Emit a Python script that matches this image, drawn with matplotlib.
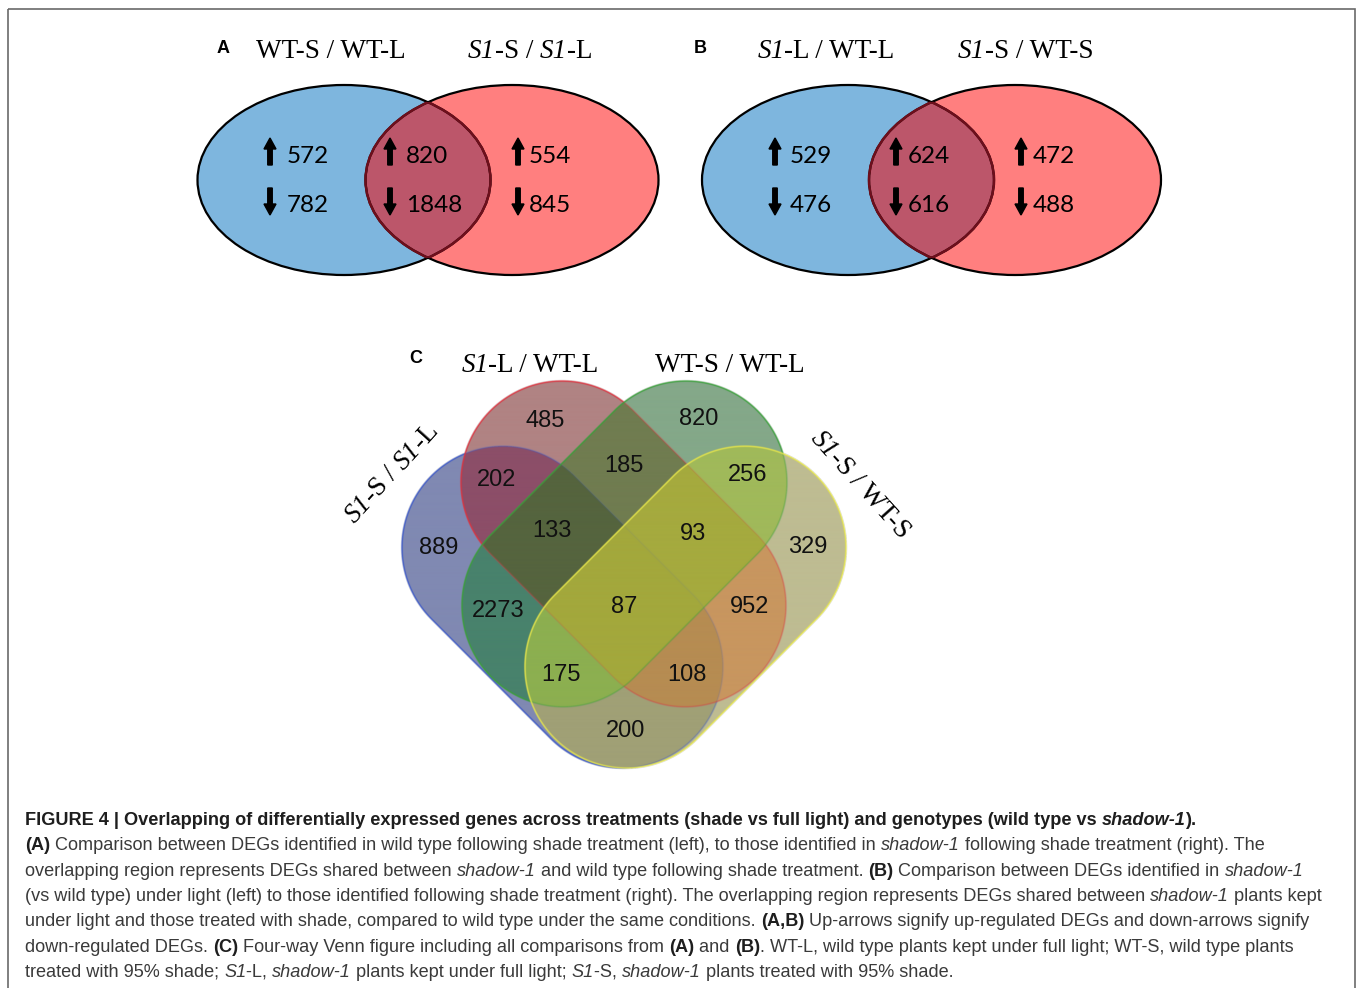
import numpy as np
import matplotlib
matplotlib.use('Agg')
import matplotlib.pyplot as plt
from matplotlib.patches import Ellipse, FancyArrow, Rectangle
from matplotlib import font_manager

# panel A: WT-S/WT-L vs S1-S/S1-L  (left only, shared, right only)
a_titles = ['WT-S / WT-L', 'S1-S / S1-L']
a_up = [572, 820, 554]
a_down = [782, 1848, 845]
# panel B: S1-L/WT-L vs S1-S/WT-S
b_titles = ['S1-L / WT-L', 'S1-S / WT-S']
b_up = [529, 624, 472]
b_down = [476, 616, 488]

# panel C: four-way venn
c_sets = ['S1-S / S1-L', 'S1-L / WT-L', 'WT-S / WT-L', 'S1-S / WT-S']
c_regions = [(0,), (1,), (2,), (3,), (0, 1), (0, 2), (0, 3), (1, 2), (1, 3), (2, 3),
             (0, 1, 2), (0, 1, 3), (0, 2, 3), (1, 2, 3), (0, 1, 2, 3)]
c_counts = [889, 485, 820, 329, 202, 2273, 200, 185, 952, 256, 133, 108, 175, 93, 87]

# layout / style
W, H = 1357, 988
c_colors = ['#8089b2', '#b08383', '#84a889', '#bebc92', '#8c4e68', '#48826c', '#a0a076',
            '#707c50', '#c8965f', '#a0b95a', '#55643e', '#b68c52', '#8caf50', '#a5aa3e', '#a3a83c']
c_label_xy = [(439, 548), (545, 421), (699, 419), (808, 547), (497, 480), (498, 611), (626, 731),
              (624, 466), (750, 607), (748, 475), (552, 531), (687, 675), (561, 675), (693, 534), (624, 607)]
cap_ends = [((503, 548), (622, 667)), ((562, 483), (685, 606)),
            ((686, 483), (563, 606)), ((745, 548), (626, 667))]
cap_r = 101
cap_edges = ['#3b57c4', '#d9333f', '#3a9e3a', '#e4e44c']

fig = plt.figure(figsize=(W / 100, H / 100), dpi=100)
ax = fig.add_axes([0, 0, 1, 1])
ax.set_xlim(0, W)
ax.set_ylim(H, 0)
ax.axis('off')
rend = fig.canvas.get_renderer()

serif = 'Liberation Serif'
sans = 'Liberation Sans'


def run_width(s, **kw):
    t1 = ax.text(0, 0, s + '|', **kw)
    t2 = ax.text(0, 0, '|', **kw)
    w = t1.get_window_extent(rend).width - t2.get_window_extent(rend).width
    t1.remove()
    t2.remove()
    return w


STY = {'r': ('normal', 'normal'), 'b': ('bold', 'normal'),
       'i': ('normal', 'italic'), 'bi': ('bold', 'italic')}


def draw_runs(x, y, runs, size, family, ha='left', rot=0, color='k', colors=None):
    th = np.deg2rad(rot)
    d = np.array([np.cos(th), -np.sin(th)])
    ws = []
    for txt, st in runs:
        wt, sl = STY[st]
        ws.append(run_width(txt, fontsize=size, family=family, weight=wt, style=sl))
    pos = np.array([x, y], float)
    if ha == 'center':
        pos = pos - sum(ws) / 2 * d
    for (txt, st), w in zip(runs, ws):
        wt, sl = STY[st]
        c = colors[st] if colors else color
        ax.text(pos[0], pos[1], txt, fontsize=size, family=family, weight=wt, style=sl,
                rotation=rot, rotation_mode='anchor', ha='left', va='baseline', color=c)
        pos = pos + w * d
    return sum(ws)


def s1_runs(label):
    parts = label.split('S1')
    runs = []
    for i, p in enumerate(parts):
        if i > 0:
            runs.append(('S1', 'i'))
        if p:
            runs.append((p, 'r'))
    return runs


# frame
ax.add_patch(Rectangle((8, 9), 1347, 1000, fill=False, ec='#6a6a6a', lw=1.2))


# ---- panels A and B: two-ellipse venns with up/down counts
def two_venn(cx_left, cx_right, cy, w, h, up, down, arrow_x, text_x, titles, title_x, letter, letter_x):
    blue = Ellipse((cx_left, cy), w, h, fc='#7eb6de', ec='none', zorder=1)
    red = Ellipse((cx_right, cy), w, h, fc='#ff7f7f', ec='none', zorder=1)
    ax.add_patch(blue)
    ax.add_patch(red)
    ov = Ellipse((cx_left, cy), w, h, fc='#bc566a', ec='none', zorder=2)
    ax.add_patch(ov)
    ov.set_clip_path(red)
    ax.add_patch(Ellipse((cx_left, cy), w, h, fill=False, ec='k', lw=1.6, zorder=3))
    ax.add_patch(Ellipse((cx_right, cy), w, h, fill=False, ec='k', lw=1.6, zorder=3))
    e1 = Ellipse((cx_left, cy), w, h, fill=False, ec='#6e0f1c', lw=1.8, zorder=4)
    e2 = Ellipse((cx_right, cy), w, h, fill=False, ec='#6e0f1c', lw=1.8, zorder=4)
    ax.add_patch(e1)
    ax.add_patch(e2)
    e1.set_clip_path(red)
    e2.set_clip_path(blue)
    for u, dn, ax_x, tx in zip(up, down, arrow_x, text_x):
        ax.add_patch(FancyArrow(ax_x, 165, 0, -27, width=4.5, head_width=12, head_length=11,
                                length_includes_head=True, color='k', zorder=5))
        ax.add_patch(FancyArrow(ax_x, 188, 0, 27, width=4.5, head_width=12, head_length=11,
                                length_includes_head=True, color='k', zorder=5))
        ax.text(tx, 163, str(u), fontsize=17.5, family='Lato', ha='left', va='baseline', zorder=5)
        ax.text(tx, 212, str(dn), fontsize=17.5, family='Lato', ha='left', va='baseline', zorder=5)
    for t, tx in zip(titles, title_x):
        draw_runs(tx, 58, s1_runs(t), 19.5, serif, ha='center')
    ax.text(letter_x, 53, letter, fontsize=13, family=sans, weight='bold', ha='left', va='baseline')


two_venn(344, 512, 180, 293, 190, a_up, a_down, [270, 390, 518], [287, 406, 529],
         a_titles, [331, 530], 'A', 217)
two_venn(848, 1015, 180, 292, 190, b_up, b_down, [775, 896, 1021], [790, 908, 1033],
         b_titles, [826, 1026], 'B', 694)


# ---- panel C: four capsules, rendered as a supersampled raster
def seg_dist(X, Y, p1, p2):
    p1 = np.array(p1, float)
    p2 = np.array(p2, float)
    d = p2 - p1
    t = np.clip(((X - p1[0]) * d[0] + (Y - p1[1]) * d[1]) / (d @ d), 0, 1)
    return np.hypot(X - p1[0] - t * d[0], Y - p1[1] - t * d[1])


x0, x1, y0, y1 = 385, 865, 365, 785
ss = 4
xs = np.arange(x0, x1, 1 / ss) + 0.5 / ss
ys = np.arange(y0, y1, 1 / ss) + 0.5 / ss
X, Y = np.meshgrid(xs, ys)
dists = [seg_dist(X, Y, p1, p2) for p1, p2 in cap_ends]
inside = [dd <= cap_r for dd in dists]
code = np.zeros(X.shape, int)
for i, m in enumerate(inside):
    code |= m.astype(int) << i
rgb = np.zeros(X.shape + (3,))
alpha = np.zeros(X.shape)
for reg, col in zip(c_regions, c_colors):
    key = sum(1 << k for k in reg)
    sel = code == key
    rgb[sel] = matplotlib.colors.to_rgb(col)
    alpha[sel] = 1.0

# outlines: faded where later (upper) shapes cover them
for i, (dd, ec) in enumerate(zip(dists, cap_edges)):
    n_later = sum(inside[j].astype(float) for j in range(i + 1, 4)) if i < 3 else 0
    a = np.clip(1.25 - np.abs(dd - cap_r), 0, 1) * 0.9 * 0.45 ** n_later
    out_a = a + alpha * (1 - a)
    ecol = np.array(matplotlib.colors.to_rgb(ec))
    num = ecol * a[..., None] + rgb * (alpha * (1 - a))[..., None]
    rgb = np.where(out_a[..., None] > 0, num / np.maximum(out_a, 1e-9)[..., None], rgb)
    alpha = out_a

img = np.dstack([rgb, alpha])
ax.imshow(img, extent=(x0, x1, y1, y0), origin='upper', interpolation='antialiased', zorder=1)

for n, (lx, ly) in zip(c_counts, c_label_xy):
    ax.text(lx, ly, str(n), fontsize=17, family=sans, ha='center', va='center',
            color='#111111', zorder=3)

draw_runs(530, 372, s1_runs(c_sets[1]), 19.5, serif, ha='center')
draw_runs(730, 372, s1_runs(c_sets[2]), 19.5, serif, ha='center')
draw_runs(397, 478, s1_runs(c_sets[0]), 19.5, serif, ha='center', rot=48)
draw_runs(855, 489, s1_runs(c_sets[3]), 19.5, serif, ha='center', rot=-48)
ax.text(409, 363, 'C', fontsize=13, family=sans, weight='bold', ha='left', va='baseline')

# ---- caption
names = {f.name for f in font_manager.fontManager.ttflist}
cap_family = 'Liberation Sans Narrow' if 'Liberation Sans Narrow' in names else sans
caption = [
    [('FIGURE 4 | Overlapping of differentially expressed genes across treatments (shade vs full light) and genotypes (wild type vs ', 'b'),
     ('shadow-1', 'bi'), (').', 'b')],
    [('(A)', 'b'), (' Comparison between DEGs identified in wild type following shade treatment (left), to those identified in ', 'r'),
     ('shadow-1', 'i'), (' following shade treatment (right). The', 'r')],
    [('overlapping region represents DEGs shared between ', 'r'), ('shadow-1', 'i'),
     (' and wild type following shade treatment. ', 'r'), ('(B)', 'b'),
     (' Comparison between DEGs identified in ', 'r'), ('shadow-1', 'i')],
    [('(vs wild type) under light (left) to those identified following shade treatment (right). The overlapping region represents DEGs shared between ', 'r'),
     ('shadow-1', 'i'), (' plants kept', 'r')],
    [('under light and those treated with shade, compared to wild type under the same conditions. ', 'r'),
     ('(A,B)', 'b'), (' Up-arrows signify up-regulated DEGs and down-arrows signify', 'r')],
    [('down-regulated DEGs. ', 'r'), ('(C)', 'b'), (' Four-way Venn figure including all comparisons from ', 'r'),
     ('(A)', 'b'), (' and ', 'r'), ('(B)', 'b'), ('. WT-L, wild type plants kept under full light; WT-S, wild type plants', 'r')],
    [('treated with 95% shade; ', 'r'), ('S1', 'i'), ('-L, ', 'r'), ('shadow-1', 'i'),
     (' plants kept under full light; ', 'r'), ('S1', 'i'), ('-S, ', 'r'), ('shadow-1', 'i'),
     (' plants treated with 95% shade.', 'r')],
]

w12 = 0
for txt, st in caption[4]:
    wt, sl = STY[st]
    w12 += run_width(txt, fontsize=12, family=cap_family, weight=wt, style=sl)
cap_size = 12 * (1316 - 25) / w12
cols = {'r': '#3a3a3a', 'i': '#3a3a3a', 'b': '#1e1e1e', 'bi': '#1e1e1e'}
for i, line in enumerate(caption):
    draw_runs(25, 825 + 25.3 * i, line, cap_size, cap_family, colors=cols)

ax.set_xlim(0, W)
ax.set_ylim(H, 0)
fig.savefig('out.png', dpi=100)
